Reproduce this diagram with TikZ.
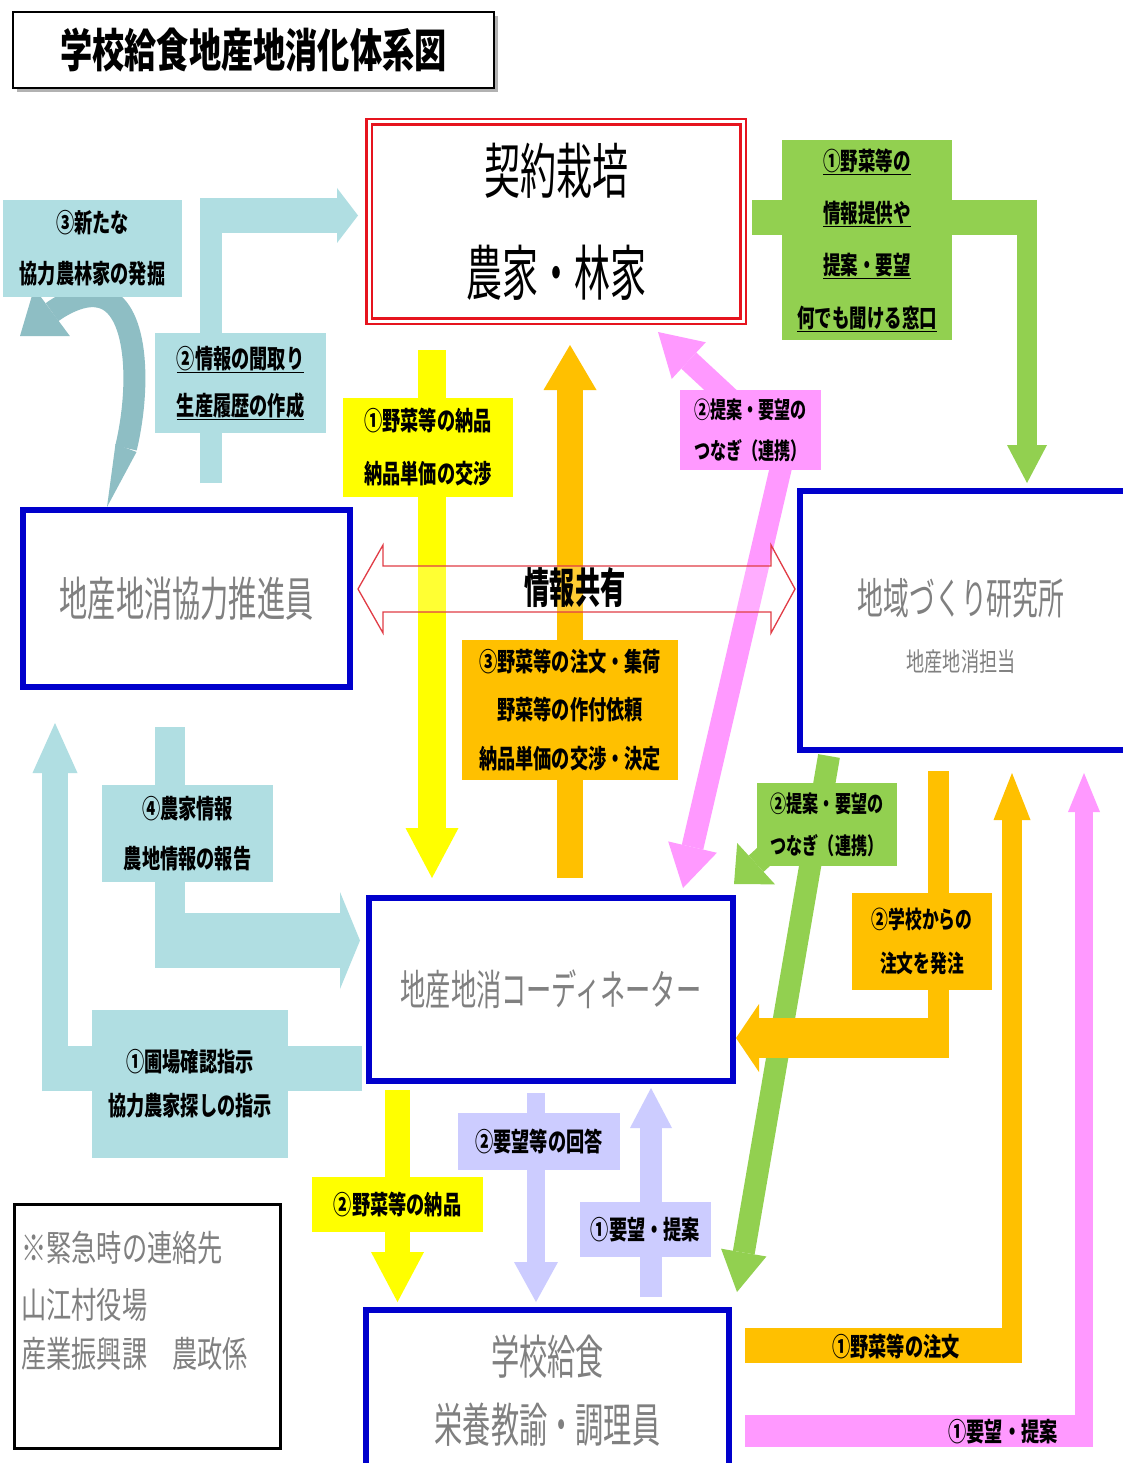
\documentclass[tikz,border=0pt]{standalone}
\usepackage{fontspec}
\usetikzlibrary{arrows.meta}
\newfontfamily\jpa[FakeStretch=0.6]{Noto Sans CJK JP}
\newfontfamily\jpb[FakeStretch=0.7]{Noto Sans CJK JP}
\definecolor{cy}{RGB}{176,222,226}
\definecolor{cyd}{RGB}{142,190,196}
\definecolor{yl}{RGB}{255,255,0}
\definecolor{og}{RGB}{255,192,0}
\definecolor{gn}{RGB}{146,208,80}
\definecolor{pk}{RGB}{255,153,255}
\definecolor{lv}{RGB}{204,204,255}
\definecolor{bl}{RGB}{0,0,204}
\definecolor{rd}{RGB}{230,20,30}
\definecolor{rl}{RGB}{225,60,70}
\definecolor{gt}{RGB}{128,128,128}
\tikzset{
  ahead/.style 2 args={-{Triangle[width=#1pt,length=#2pt,line width=0pt]}},
  aheads/.style 2 args={{Triangle[width=#1pt,length=#2pt,line width=0pt]}-{Triangle[width=#1pt,length=#2pt,line width=0pt]}},
  shaft/.style={line cap=butt, line join=miter},
  lbl/.style={rectangle, inner sep=0pt, align=center, text=black,
    font=\jpb\bfseries\fontsize{26}{50}\selectfont},
  mainbox/.style={rectangle, draw=bl, line width=6pt, fill=white, inner sep=0pt, text=gt},
  gtext/.style={inner sep=0pt, text=gt}
}
\begin{document}
\begin{tikzpicture}[x=1pt,y=-1pt]
\useasboundingbox (0,0) rectangle (1123,1463);
\fill[white] (0,0) rectangle (1123,1463);

% ---------- connector coordinates
\coordinate (c2a) at (211,483);   \coordinate (c2b) at (211,198);
\coordinate (c2c) at (200,215.5); \coordinate (c2d) at (358,215.5);
\coordinate (cv0) at (107,507);   \coordinate (cva) at (126,448);
\coordinate (cvb) at (100,297);   \coordinate (cvc) at (20,336);
\coordinate (c4a) at (170,727);   \coordinate (c4b) at (170,968);
\coordinate (c4c) at (155,940.5); \coordinate (c4d) at (360,940.5);
\coordinate (c1a) at (362,1068.5);\coordinate (c1b) at (42,1068.5);
\coordinate (c1c) at (55,1091);   \coordinate (c1d) at (55,723);
\coordinate (y1a) at (432,350);   \coordinate (y1b) at (432,878);
\coordinate (o3a) at (570,878);   \coordinate (o3b) at (570,345);
\coordinate (p2a) at (658,332);   \coordinate (p2b) at (785,450); \coordinate (p2c) at (683,888);
\coordinate (g1a) at (752,217.5); \coordinate (g1b) at (1037,217.5);
\coordinate (g1c) at (1027,200);  \coordinate (g1d) at (1027,483);
\coordinate (g2a) at (829,756);   \coordinate (g2b) at (737,1292);
\coordinate (g2c) at (806,818);   \coordinate (g2d) at (734,884);
\coordinate (o2a) at (938.5,771); \coordinate (o2b) at (938.5,1058);
\coordinate (o2c) at (949,1038);  \coordinate (o2d) at (736,1038);
\coordinate (o1a) at (745,1345.5);\coordinate (o1b) at (1022,1345.5);
\coordinate (o1c) at (1012,1363); \coordinate (o1d) at (1012,773);
\coordinate (p1a) at (745,1431);  \coordinate (p1b) at (1093,1431);
\coordinate (p1c) at (1084,1447); \coordinate (p1d) at (1084,773);
\coordinate (y2a) at (397.5,1090);\coordinate (y2b) at (397.5,1302);
\coordinate (v2a) at (536,1093);  \coordinate (v2b) at (536,1302);
\coordinate (v1a) at (651,1297);  \coordinate (v1b) at (651,1088);

% ---------- block arrows
\draw[shaft, cy, line width=22pt] (c2a) -- (c2b);
\draw[shaft, cy, line width=35pt, ahead={55}{21}] (c2c) -- (c2d);
\fill[cyd] (cv0) -- (115.5,444) -- (136.5,452) -- cycle;
\draw[shaft, cyd, line width=22pt, ahead={60}{40}] (cva) .. controls (141,385) and (138,305) .. (cvb) .. controls (80,292) and (55,310) .. (cvc);
\draw[shaft, cy, line width=30pt] (c4a) -- (c4b);
\draw[shaft, cy, line width=55pt, ahead={97}{20}] (c4c) -- (c4d);
\draw[shaft, cy, line width=45pt] (c1a) -- (c1b);
\draw[shaft, cy, line width=26pt, ahead={45}{50}] (c1c) -- (c1d);
\draw[shaft, yl, line width=28pt, ahead={53}{50}] (y1a) -- (y1b);
\draw[shaft, og, line width=26pt, ahead={53}{45}] (o3a) -- (o3b);
\draw[shaft, pk, line width=22pt, aheads={50}{42}] (p2a) -- (p2b) -- (p2c);
\draw[shaft, gn, line width=35pt] (g1a) -- (g1b);
\draw[shaft, gn, line width=20pt, ahead={40}{38}] (g1c) -- (g1d);
\draw[shaft, gn, line width=22pt, ahead={46}{40}] (g2a) -- (g2b);
\draw[shaft, gn, line width=22pt, ahead={56}{30}] (g2c) -- (g2d);
\draw[shaft, og, line width=21pt] (o2a) -- (o2b);
\draw[shaft, og, line width=40pt, ahead={68}{23}] (o2c) -- (o2d);
\draw[shaft, og, line width=35pt] (o1a) -- (o1b);
\draw[shaft, og, line width=20pt, ahead={37}{47}] (o1c) -- (o1d);
\draw[shaft, pk, line width=32pt] (p1a) -- (p1b);
\draw[shaft, pk, line width=18pt, ahead={32}{39}] (p1c) -- (p1d);
\draw[shaft, yl, line width=25pt, ahead={53}{50}] (y2a) -- (y2b);
\draw[shaft, lv, line width=18pt, ahead={44}{40}] (v2a) -- (v2b);
\draw[shaft, lv, line width=22pt, ahead={42}{40}] (v1a) -- (v1b);

% ---------- information-sharing double block arrow
\draw[rl, line width=1.3pt, fill=white, fill opacity=0.2]
  (358,589) -- (383,545) -- (383,566) -- (771,566) -- (771,545) -- (795,589)
  -- (771,633) -- (771,612) -- (383,612) -- (383,633) -- cycle;
\node[inner sep=0pt, font=\jpa\bfseries\fontsize{42}{42}\selectfont] (share) at (575,588) {情報共有};

% ---------- labels
\node[lbl, fill=cy, minimum width=179pt, minimum height=97pt, font=\jpb\bfseries\fontsize{26}{51}\selectfont] (l3) at (92.5,248.5) {③新たな\\協力農林家の発掘};
\node[lbl, fill=cy, minimum width=171pt, minimum height=100pt, font=\jpb\bfseries\fontsize{26}{47}\selectfont] (l2) at (240.5,383) {\underline{②情報の聞取り}\\\underline{生産履歴の作成}};
\node[lbl, fill=yl, minimum width=170pt, minimum height=99pt, font=\jpb\bfseries\fontsize{26}{53}\selectfont] (ly1) at (428,447) {①野菜等の納品\\納品単価の交渉};
\node[lbl, fill=og, minimum width=216pt, minimum height=140pt, font=\jpb\bfseries\fontsize{26}{48.5}\selectfont] (lo3) at (570,710) {③野菜等の注文・集荷\\野菜等の作付依頼\\納品単価の交渉・決定};
\node[lbl, fill=pk, minimum width=141pt, minimum height=80pt, font=\jpb\bfseries\fontsize{23}{41}\selectfont] (lp2) at (750.5,430) {②提案・要望の\\つなぎ（連携）};
\node[lbl, fill=gn, minimum width=170pt, minimum height=200pt, font=\jpb\bfseries\fontsize{25}{52.3}\selectfont] (lg1) at (867,240) {\underline{①野菜等の}\\\underline{情報提供や}\\\underline{提案・要望}\\\underline{何でも聞ける窓口}};
\node[lbl, fill=cy, minimum width=171pt, minimum height=97pt, font=\jpb\bfseries\fontsize{26}{50}\selectfont] (l4) at (187.5,833.5) {④農家情報\\農地情報の報告};
\node[lbl, fill=cy, minimum width=196pt, minimum height=148pt, font=\jpb\bfseries\fontsize{26}{44}\selectfont] (l1) at (190,1084) {①圃場確認指示\\協力農家探しの指示};
\node[lbl, fill=gn, minimum width=140pt, minimum height=83pt, font=\jpb\bfseries\fontsize{23}{42}\selectfont] (lg2) at (827,824.5) {②提案・要望の\\つなぎ（連携）};
\node[lbl, fill=og, minimum width=140pt, minimum height=97pt, font=\jpb\bfseries\fontsize{24}{44}\selectfont] (lo2) at (922,941.5) {②学校からの\\注文を発注};
\node[lbl, fill=yl, minimum width=171pt, minimum height=55pt] (ly2) at (397.5,1204.5) {②野菜等の納品};
\node[lbl, fill=lv, minimum width=162pt, minimum height=57pt] (lv2) at (539,1141.5) {②要望等の回答};
\node[lbl, fill=lv, minimum width=131pt, minimum height=55pt] (lv1) at (645.5,1229.5) {①要望・提案};
\node[lbl] (lo1) at (896,1347) {①野菜等の注文};
\node[lbl] (lp1) at (1003,1432) {①要望・提案};

% ---------- title
\fill[gray!60] (17,16) rectangle (498,92);
\node[draw=black, line width=1.5pt, fill=white, minimum width=481pt, minimum height=76pt, inner sep=0pt,
  font=\jpb\bfseries\fontsize{46}{46}\selectfont] (title) at (253.5,50) {学校給食地産地消化体系図};

% ---------- main boxes
\node[draw=rd, double=white, double distance=3pt, line width=2.5pt, fill=white,
  minimum width=374pt, minimum height=199pt, inner sep=0pt, align=center,
  font=\jpa\fontsize{60}{102}\selectfont] (farm) at (556,221.5) {契約栽培\\農家・林家};
\node[mainbox, minimum width=327pt, minimum height=177pt, font=\jpa\fontsize{47}{47}\selectfont] (suishin) at (186.5,598.5) {地産地消協力推進員};
\node[mainbox, minimum width=330pt, minimum height=259pt] (kenkyu) at (965,620.5) {};
\node[gtext, font=\jpa\fontsize{43}{43}\selectfont] (kenkyu1) at (961,598) {地域づくり研究所};
\node[gtext, font=\jpb\fontsize{26}{26}\selectfont] (kenkyu2) at (961,662) {地産地消担当};
\node[mainbox, minimum width=364pt, minimum height=183pt, font=\jpa\fontsize{42}{42}\selectfont] (coord) at (551,989.5) {地産地消コーディネーター};
\node[mainbox, minimum width=363pt, minimum height=160pt] (school) at (547.5,1390) {};
\node[gtext, font=\jpa\fontsize{47}{47}\selectfont] (school1) at (547.5,1357) {学校給食};
\node[gtext, font=\jpa\fontsize{47}{47}\selectfont] (school2) at (547.5,1425) {栄養教諭・調理員};

% ---------- emergency contact
\node[draw=black, line width=3pt, minimum width=266pt, minimum height=244pt, inner sep=0pt] (kinkyu) at (147.5,1326.5) {};
\node[gtext, anchor=west, font=\jpb\fontsize{36}{36}\selectfont] (k1) at (21,1248) {※緊急時の連絡先};
\node[gtext, anchor=west, font=\jpb\fontsize{36}{36}\selectfont] (k2) at (21,1305) {山江村役場};
\node[gtext, anchor=west, font=\jpb\fontsize{36}{36}\selectfont] (k3) at (21,1354) {産業振興課　農政係};
\end{tikzpicture}
\end{document}
